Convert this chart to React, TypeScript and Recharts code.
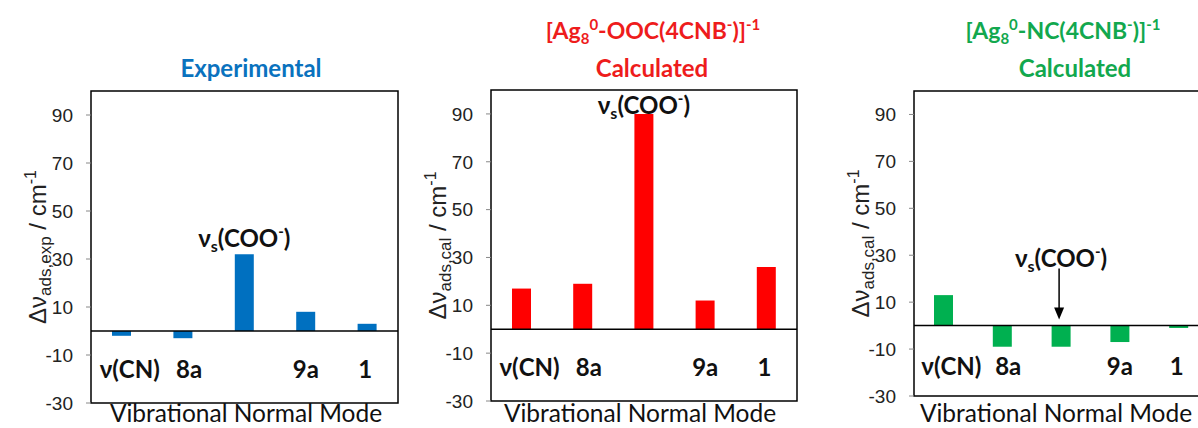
import React from 'react'
import { BarChart, Bar, XAxis, YAxis, ReferenceLine, ReferenceArea, LabelList } from 'recharts'

// vibrational normal modes (categories) and the label drawn under each one
const modes = ['ν(CN)', '8a', 'νs(COO⁻)', '9a', '1']
const modeTickLabels = ['ν(CN)', '8a', '', '9a', '1']

// Δν values, cm-1
const experimental = [-2, -3, 32, 8, 3]
const calculatedOOC = [17, 19, 90, 12, 26]
const calculatedNC = [13, -9, -9, -7, -1]

const yTicks = [-30, -10, 10, 30, 50, 70, 90]
const yDomain = [-30, 100]

const LABEL_FONT = "Lato, 'Open Sans', sans-serif"
const AXIS_FONT = "'Liberation Sans', Arial, sans-serif"
const tickShift = [8, 6, 0, 0, -2]

interface IPanel {
    chartLeft: number
    width: number
    plotLeft: number
    plotRight: number
    plotTop: number
    plotBottom: number
    values: number[]
    color: string
    sub: string
    tickBaseline: number
    yTitleX: number
    xTitleX: number
    peakGap: number
    arrow?: boolean
}

const panels: IPanel[] = [
    {
        chartLeft: 0, width: 400, plotLeft: 91, plotRight: 398, plotTop: 91, plotBottom: 403,
        values: experimental, color: '#0070C0', sub: 'ads,exp', tickBaseline: 378, yTitleX: 33, xTitleX: 246, peakGap: 7
    },
    {
        chartLeft: 400, width: 400, plotLeft: 491, plotRight: 797, plotTop: 90, plotBottom: 401,
        values: calculatedOOC, color: '#FF0000', sub: 'ads,cal', tickBaseline: 376, yTitleX: 34, xTitleX: 640, peakGap: 0
    },
    {
        chartLeft: 823, width: 387, plotLeft: 914, plotRight: 1208, plotTop: 91, plotBottom: 396,
        values: calculatedNC, color: '#00B050', sub: 'ads,cal', tickBaseline: 375, yTitleX: 31, xTitleX: 1056, peakGap: 59, arrow: true
    }
]

const ModeTick = (props: any) => {
    const { x, payload, baseline } = props
    const i = modes.indexOf(payload.value)
    if (i < 0 || !modeTickLabels[i]) return null
    return (
        <text x={x + tickShift[i]} y={baseline} textAnchor="middle" fontFamily={LABEL_FONT}
            fontWeight={700} fontSize={24} fill="#111">
            {modeTickLabels[i]}
        </text>
    )
}

const YTitle = ({ x, y, sub }: { x: number, y: number, sub: string }) => (
    <text x={x} y={y} transform={`rotate(-90 ${x} ${y})`} textAnchor="middle"
        fontFamily={AXIS_FONT} fontSize={24} fill="#222">
        Δν<tspan fontSize={17} dy={5}>{sub}</tspan>
        <tspan dy={-5}> / cm</tspan>
        <tspan fontSize={16} dy={-10}>-1</tspan>
    </text>
)

const PeakLabel = (props: any) => {
    const { x, y, width, height, index, gap, arrow } = props
    if (index !== 2) return null
    const top = Math.min(y, y + height)
    const cx = x + width / 2
    const base = top - gap
    return (
        <g>
            <text x={cx} y={base} textAnchor="middle" fontFamily={LABEL_FONT} fontWeight={700}
                fontSize={24} fill="#111">
                ν<tspan fontSize={16} dy={5}>s</tspan>
                <tspan dy={-5}>(COO</tspan>
                <tspan fontSize={15} dy={-10}>-</tspan>
                <tspan dy={10}>)</tspan>
            </text>
            {arrow && (
                <g>
                    <line x1={cx - 2} y1={base + 2} x2={cx - 2} y2={top - 16} stroke="#000" strokeWidth={1.5} />
                    <polygon points={`${cx - 7},${top - 18} ${cx + 3},${top - 18} ${cx - 2},${top - 6}`} fill="#000" />
                </g>
            )}
        </g>
    )
}

const Panel = ({ cfg }: { cfg: IPanel }) => {
    const data = modes.map((mode, i) => ({ mode, value: cfg.values[i] }))
    const yTitleY = (cfg.plotTop + cfg.plotBottom) / 2 - 17
    return (
        <div style={{ position: 'absolute', left: cfg.chartLeft, top: 0 }}>
            <BarChart
                width={cfg.width}
                height={428}
                data={data}
                margin={{ top: cfg.plotTop, right: cfg.chartLeft + cfg.width - cfg.plotRight, bottom: 0, left: 0 }}
            >
                <XAxis dataKey="mode" height={428 - cfg.plotBottom} axisLine={false} tickLine={false}
                    interval={0} tick={(p: any) => <ModeTick {...p} baseline={cfg.tickBaseline} />} />
                <YAxis type="number" domain={yDomain} ticks={yTicks} width={cfg.plotLeft - cfg.chartLeft}
                    axisLine={false} tickSize={5} tickMargin={13} tickLine={{ stroke: '#888' }}
                    tick={{ fill: '#222', fontSize: 19, fontFamily: AXIS_FONT }} allowDataOverflow
                    label={<YTitle x={cfg.yTitleX} y={yTitleY} sub={cfg.sub} />} />
                <ReferenceLine y={0} stroke="#000" strokeWidth={1.5} />
                <Bar dataKey="value" fill={cfg.color} barSize={19} isAnimationActive={false}>
                    <LabelList dataKey="value"
                        content={(p: any) => <PeakLabel {...p} gap={cfg.peakGap} arrow={cfg.arrow} />} />
                </Bar>
                <ReferenceArea y1={-30} y2={100} fill="none" stroke="#000" strokeWidth={1.5} ifOverflow="visible" />
            </BarChart>
        </div>
    )
}

const Title = ({ cx, cy, color, children }: { cx: number, cy: number, color: string, children: React.ReactNode }) => (
    <div style={{
        position: 'absolute', left: cx - 200, width: 400, top: cy - 16, height: 32, lineHeight: '32px',
        textAlign: 'center', color, fontFamily: LABEL_FONT, fontWeight: 700, fontSize: 23, whiteSpace: 'nowrap'
    }}>
        {children}
    </div>
)

const supStyle: React.CSSProperties = { fontSize: 15, verticalAlign: 9, lineHeight: 0 }
const subStyle: React.CSSProperties = { fontSize: 15, verticalAlign: -5, lineHeight: 0 }

const Formula = ({ ligand }: { ligand: string }) => (
    <>
        [Ag<span style={subStyle}>8</span><span style={supStyle}>0</span>-{ligand}(4CNB<span style={supStyle}>-</span>)]
        <span style={supStyle}>-1</span>
    </>
)

const XTitle = ({ cx }: { cx: number }) => (
    <div style={{
        position: 'absolute', left: cx - 200, width: 400, top: 401, height: 24, lineHeight: '24px',
        textAlign: 'center', color: '#111', fontFamily: LABEL_FONT, fontSize: 24.5, whiteSpace: 'nowrap'
    }}>
        Vibrational Normal Mode
    </div>
)

const App = () => {
    return (
        <div style={{ position: 'absolute', left: 0, top: 0, width: 1198, height: 428, overflow: 'hidden', background: '#fff' }}>
            {panels.map((cfg, i) => <Panel key={i} cfg={cfg} />)}
            <Title cx={251} cy={68} color="#0A72BE"><span style={{ fontSize: 24 }}>Experimental</span></Title>
            <Title cx={653} cy={30} color="#EE1C1C"><Formula ligand="OOC" /></Title>
            <Title cx={652} cy={68} color="#EE1C1C"><span style={{ fontSize: 24 }}>Calculated</span></Title>
            <Title cx={1063} cy={30} color="#12A84E"><Formula ligand="NC" /></Title>
            <Title cx={1075} cy={68} color="#12A84E"><span style={{ fontSize: 24 }}>Calculated</span></Title>
            {panels.map((cfg, i) => <XTitle key={i} cx={cfg.xTitleX} />)}
        </div>
    )
}

export default App
